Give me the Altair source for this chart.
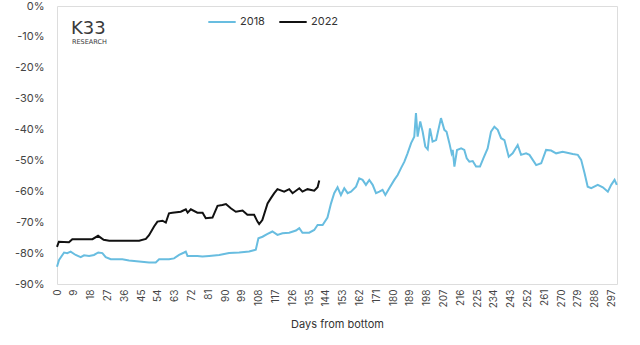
import altair as alt
import pandas as pd

# ---- data ----
days_2018 = [0, 1.1, 3.8, 5.5, 7.3, 10, 12.7, 14.5, 17.2, 19.8, 22.1, 24.3, 26.1, 28.8, 35, 38.6, 44,
             49.3, 52.9, 54.7, 60, 62.7, 65.4, 68.1, 69, 69.9, 75.2, 77.9, 81.5, 86.9, 92.2, 97.6,
             102.9, 106.5, 107.9, 110.1, 112.8, 115.4, 118.1, 120.8, 124.4, 128, 129.8, 131.5, 135.1,
             137.8, 139.6, 142.3, 144.9, 146.8, 148.5, 150.3, 152.1, 153.9, 155.7, 157.5, 160.2, 161.9,
             163.7, 165.5, 167.3, 169.1, 170.9, 172.7, 174.4, 175.9, 178, 180.7, 182.5, 184.3, 186.1,
             187.8, 189.7, 191.4, 192.3, 193.2, 194.6, 195.9, 197.3, 198.6, 199.8, 201.2, 203.1, 205.7,
             207.5, 208.7, 210.2, 211.4, 212, 212.9, 214.3, 216.5, 218.2, 219.5, 220.9, 222.7, 224.5,
             226.6, 228.4, 230.7, 232.5, 234.3, 236.1, 237.9, 239.7, 242, 244.1, 246.8, 248.6, 251.3,
             253.1, 256.7, 259.4, 262, 264.7, 267.4, 270.9, 276.3, 279, 280.8, 282.6, 284.3, 286.2,
             289.7, 292.4, 295.1, 296.9, 298.7, 299.9]
vals_2018 = [-84.4, -82.2, -79.8, -80, -79.5, -80.6, -81.3, -80.7, -80.9, -80.6, -79.8, -80, -81.3, -82,
             -82, -82.4, -82.7, -83, -83, -82, -82, -81.7, -80.6, -79.8, -79.5, -80.9, -80.9, -81.1,
             -80.9, -80.6, -80, -79.8, -79.5, -78.9, -75.2, -74.7, -73.8, -73, -74.1, -73.6, -73.4,
             -72.7, -71.9, -73.4, -73.4, -72.5, -70.9, -70.9, -68.5, -63.9, -60.6, -58.7, -61.2, -59,
             -60.6, -60.1, -58.5, -55.8, -56.3, -57.9, -56.3, -57.9, -60.6, -60.1, -59.5, -61.2, -59,
             -56.3, -54.7, -52.5, -50.4, -47.7, -44.4, -42.3, -34.7, -42.3, -37.4, -40.7, -45.5, -46.4,
             -39.6, -43.9, -43.4, -36.3, -40.1, -40.7, -44.4, -47.7, -46.6, -52, -46.6, -46.1, -46.6,
             -49.3, -50.4, -50.2, -52, -52, -49.3, -46.1, -40.7, -39.1, -40.1, -42.8, -43.4, -48.8,
             -47.7, -45, -48.2, -47.7, -48.2, -51.5, -50.9, -46.6, -46.8, -47.7, -47.2, -47.9, -48.2,
             -49.8, -54.1, -58.5, -59, -57.9, -58.7, -60.1, -57.9, -56.3, -57.9]

days_2022 = [0, 1, 6.4, 8.2, 19, 22, 25, 28, 38.6, 44, 47.6, 49.3, 52, 53.8, 56.5, 58.3, 60, 61.8,
             66.3, 69, 70, 71.7, 75.2, 78, 79.7, 83.3, 86, 88.6, 90.5, 93.1, 95.8, 99.4, 102, 105.6,
             107.4, 108.3, 110, 112.8, 114.6, 116.4, 118.1, 121.7, 124.4, 126.2, 129.8, 131.5, 134.2,
             137.8, 139.6, 140.5]
vals_2022 = [-78, -76.3, -76.5, -75.5, -75.5, -74.4, -75.7, -76, -76, -76, -75.4, -74.2, -71.4, -69.8,
             -69.5, -70.1, -67.1, -66.9, -66.6, -65.8, -66.9, -65.8, -66.9, -66.9, -68.7, -68.5, -64.7,
             -64.4, -64.1, -65.5, -66.6, -66.2, -67.6, -67.6, -69.8, -70.6, -69.3, -63.9, -62.2, -60.6,
             -59.3, -60.1, -59.3, -60.6, -59, -60.1, -59.3, -59.8, -58.7, -56.5]

series_names = ["2018", "2022"]
series_colors = ["#68bde0", "#111111"]
x_ticks = list(range(0, 298, 9))
y_ticks = list(range(-90, 1, 10))
logo_text = ["K33", "RESEARCH"]
x_title = "Days from bottom"

df = pd.concat([
    pd.DataFrame({"day": days_2018, "value": vals_2018, "year": series_names[0]}),
    pd.DataFrame({"day": days_2022, "value": vals_2022, "year": series_names[1]}),
])

FONT = "Inter"

lines = alt.Chart(df).mark_line(strokeWidth=2).encode(
    x=alt.X("day:Q", scale=alt.Scale(domain=[0, 300], nice=False, zero=False),
            axis=alt.Axis(values=x_ticks, labelAngle=-90, title=x_title, grid=False,
                          domain=False, ticks=False, labelPadding=5, labelFontSize=10,
                          labelColor="#444", labelFont=FONT, titleFont=FONT, titleFontSize=11,
                          titleFontWeight="normal", titleColor="#333", titlePadding=11)),
    y=alt.Y("value:Q", scale=alt.Scale(domain=[-90, 0], nice=False),
            axis=alt.Axis(values=y_ticks, labelExpr="datum.value + '%'", title=None, grid=False,
                          domain=False, ticks=False, labelPadding=13, labelFontSize=11,
                          labelColor="#444", labelFont=FONT)),
    color=alt.Color("year:N", scale=alt.Scale(domain=series_names, range=series_colors),
                    legend=alt.Legend(title=None, orient="none", legendX=150, legendY=1,
                                      direction="horizontal", symbolType="stroke",
                                      symbolStrokeWidth=2, symbolSize=750, labelFontSize=11,
                                      labelFont=FONT, labelColor="#333", columnPadding=10,
                                      labelOffset=3, padding=0)),
    detail="year:N",
)

logo_df = pd.DataFrame({"t": logo_text})
logo_big = alt.Chart(logo_df).transform_filter(alt.datum.t == logo_text[0]).mark_text(
    align="left", baseline="alphabetic", fontSize=18, font="DejaVu Sans", fontWeight="normal",
    color="#3a3a3a"
).encode(x=alt.value(14), y=alt.value(28), text="t:N")
logo_small = alt.Chart(logo_df).transform_filter(alt.datum.t == logo_text[1]).mark_text(
    align="left", baseline="top", fontSize=6.5, font="DejaVu Sans", color="#3a3a3a"
).encode(x=alt.value(15), y=alt.value(33), text="t:N")

chart = alt.layer(lines, logo_big, logo_small).properties(
    width=560, height=278,
    autosize=alt.AutoSizeParams(type="none"),
    padding={"left": 57, "top": 6, "right": 23, "bottom": 61},
).configure_view(stroke=None).configure(background="white")

chart.save("out.html", embed_options={"renderer": "svg", "actions": False})
